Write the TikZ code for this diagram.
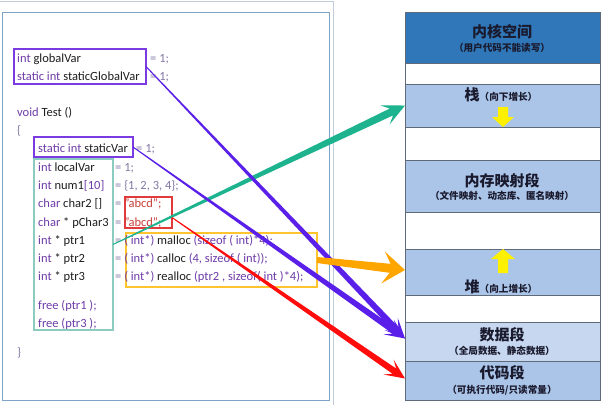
\documentclass[tikz,border=0pt]{standalone}
\usepackage{fontspec}
\setmainfont{Carlito}
\newfontfamily\cjk{Noto Sans CJK SC}
\usetikzlibrary{calc}
\definecolor{kernblue}{HTML}{2F77B8}
\definecolor{segblue}{HTML}{ABC5E8}
\definecolor{datablue}{HTML}{C6D7EF}
\definecolor{segline}{HTML}{5F6B78}
\definecolor{kwc}{HTML}{6E3CA8}
\definecolor{eqc}{HTML}{8478A6}
\definecolor{strc}{HTML}{C8403A}
\definecolor{codeblk}{HTML}{1E1E1E}
\definecolor{globbox}{HTML}{7A3CE0}
\definecolor{tealbox}{HTML}{8CCCC0}
\definecolor{redbox}{HTML}{E03A3A}
\definecolor{orgbox}{HTML}{FFC42E}
\definecolor{tealarr}{HTML}{1EB38F}
\definecolor{purparr}{HTML}{5A1FE8}
\definecolor{orgarr}{HTML}{FFA500}
\definecolor{redarr}{HTML}{FF0D0D}
\definecolor{frameblue}{HTML}{7FA3C6}
\definecolor{frameout}{HTML}{C0CCD8}
\definecolor{yarrow}{HTML}{FFF000}
\definecolor{titlec}{HTML}{1A1A2E}
\newcommand\kw[1]{\textcolor{kwc}{#1}}
% color, from, to, half-width start, half-width end, head length, notch length, head half-width
\newcommand\taperarrow[8]{%
  \coordinate (ta-K) at ($(#3)!#6!(#2)$);
  \coordinate (ta-H) at ($(#3)!#7!(#2)$);
  \fill[#1] ($(#2)!#4!90:(#3)$) -- ($(ta-H)!#5!-90:(#2)$) -- ($(ta-K)!#8!-90:(#2)$) -- (#3)
     -- ($(ta-K)!#8!90:(#2)$) -- ($(ta-H)!#5!90:(#2)$) -- ($(#2)!#4!-90:(#3)$) -- cycle;
}
\begin{document}
\begin{tikzpicture}[x=1pt,y=-1pt,
  codetxt/.style={anchor=base west, inner sep=0pt, font=\fontsize{12.5}{14}\selectfont, text=codeblk},
  eqtxt/.style={codetxt, text=eqc},
  boxat/.style={rectangle, anchor=north west, inner sep=0pt, outer sep=0pt},
  seg/.style={boxat, draw=segline, line width=0.7pt, minimum width=195pt},
  segtitle/.style={inner sep=0pt, font=\cjk\bfseries\fontsize{15}{17}\selectfont, text=titlec},
  segsub/.style={inner sep=0pt, font=\cjk\bfseries\fontsize{9.6}{11}\selectfont, text=titlec},
]
\useasboundingbox (0,0) rectangle (606,405);
\fill[white] (0,0) rectangle (606,405);
% left frame
\draw[frameout, line width=0.8pt] (0,1.5) -- (333,1.5) -- (333,405);
\node[boxat, draw=frameblue, line width=0.9pt, minimum width=327pt, minimum height=388pt] (panel) at (2,12) {};
% memory layout
\node[seg, fill=kernblue, minimum height=51pt] (kern) at (405,12) {};
\node[seg, fill=white, minimum height=21pt] (gap1) at (405,63) {};
\node[seg, fill=segblue, minimum height=43pt] (stack) at (405,84) {};
\node[seg, fill=white, minimum height=33pt] (gap2) at (405,127) {};
\node[seg, fill=segblue, minimum height=52pt] (mmap) at (405,160) {};
\node[seg, fill=white, minimum height=37pt] (gap3) at (405,212) {};
\node[seg, fill=segblue, minimum height=46pt] (heap) at (405,249) {};
\node[seg, fill=white, minimum height=27pt] (gap4) at (405,295) {};
\node[seg, fill=datablue, minimum height=39pt] (data) at (405,322) {};
\node[seg, fill=segblue, minimum height=39pt] (code) at (405,361) {};
\node[segtitle] (kernt) at (502,32) {内核空间};
\node[segsub] (kerns) at (502,48) {（用户代码不能读写）};
\node[segtitle] (stackt) at (501,95) {栈{\fontsize{9.6}{11}\selectfont（向下增长）}};
\node[segtitle] (mmapt) at (502,181) {内存映射段};
\node[segsub] (mmaps) at (502,196) {（文件映射、动态库、匿名映射）};
\node[segtitle] (heapt) at (501,287) {堆{\fontsize{9.6}{11}\selectfont（向上增长）}};
\node[segtitle] (datat) at (502,335) {数据段};
\node[segsub] (datas) at (502,351) {（全局数据、静态数据）};
\node[segtitle] (codet) at (502,373) {代码段};
\node[segsub] (codes) at (502,390) {（可执行代码/只读常量）};
% yellow growth arrows
\fill[yarrow] (498,107) -- (508,107) -- (508,117) -- (514,117) -- (503,127) -- (492,117) -- (498,117) -- cycle;
\fill[yarrow] (498,273) -- (508,273) -- (508,259) -- (515,259) -- (503,249) -- (491,259) -- (498,259) -- cycle;
% code boxes
\node[boxat, draw=globbox, line width=1.3pt, minimum width=132pt, minimum height=35pt] (globals) at (14,49) {};
\node[boxat, draw=globbox, line width=1.3pt, minimum width=99pt, minimum height=20pt] (svbox) at (34,137) {};
\node[boxat, draw=tealbox, line width=1.1pt, minimum width=79pt, minimum height=171pt] (locals) at (34,159) {};
\node[boxat, draw=redbox, line width=1.1pt, minimum width=47pt, minimum height=31pt] (strbox) at (125,197) {};
\node[boxat, draw=orgbox, line width=1.1pt, minimum width=191pt, minimum height=54pt] (heapbox) at (126,233) {};
% code text
\node[codetxt] (l1) at (17,62) {\kw{int} globalVar};
\node[eqtxt] (e1) at (150,62) {= 1;};
\node[codetxt] (l2) at (17,80) {\kw{static int} staticGlobalVar};
\node[eqtxt] (e2) at (150,80) {= 1;};
\node[codetxt] (l3) at (17,116) {\kw{void} Test ()};
\node[eqtxt] (l4) at (17,134) {\{};
\node[codetxt] (l5) at (38,152) {\kw{static int} staticVar};
\node[eqtxt] (e5) at (136,152) {= 1;};
\node[codetxt] (l6) at (38,171) {\kw{int} localVar};
\node[eqtxt] (e6) at (115,171) {= 1;};
\node[codetxt] (l7) at (38,189) {\kw{int} num1\kw{[10]}};
\node[eqtxt] (e7) at (115,189) {= \{1, 2, 3, 4\};};
\node[codetxt] (l8) at (38,207) {\kw{char} char2 []};
\node[eqtxt] (e8) at (115,207) {= \textcolor{strc}{"abcd";}};
\node[codetxt] (l9) at (38,226) {\kw{char} * pChar3};
\node[eqtxt] (e9) at (115,226) {= \textcolor{strc}{"abcd";}};
\node[codetxt] (l10) at (38,244) {\kw{int} * ptr1};
\node[eqtxt] (e10) at (115,244) {= \kw{( int*)} \textcolor{codeblk}{malloc} \kw{(sizeof ( int)*4);}};
\node[codetxt] (l11) at (38,262) {\kw{int} * ptr2};
\node[eqtxt] (e11) at (115,262) {= \kw{( int*)} \textcolor{codeblk}{calloc} \kw{(4, sizeof ( int));}};
\node[codetxt] (l12) at (38,280) {\kw{int} * ptr3};
\node[eqtxt] (e12) at (115,280) {= \kw{( int*)} \textcolor{codeblk}{realloc} \kw{(ptr2 , sizeof( int )*4);}};
\node[codetxt, text=kwc] (l13) at (38,309) {free (ptr1 );};
\node[codetxt, text=kwc] (l14) at (38,327) {free (ptr3 );};
\node[eqtxt] (l15) at (17,356) {\}};
% connectors
\coordinate (tealS) at (locals.east);
\coordinate (tealE) at (stack.west);
\coordinate (globS) at (globals.east);
\coordinate (svS) at (svbox.east);
\coordinate (dataE) at ($(data.west)+(0,-3)$);
\coordinate (orgS) at (heapbox.east);
\coordinate (orgE) at ($(heap.west)+(0,-2)$);
\coordinate (redS) at ($(strbox.east)+(0,5)$);
\coordinate (redE) at ($(code.west)+(0,-2)$);
\taperarrow{tealarr}{tealS}{tealE}{0.5pt}{3.8pt}{22pt}{15pt}{10.5pt}
\taperarrow{purparr}{globS}{dataE}{0.5pt}{3.2pt}{20pt}{13pt}{9pt}
\taperarrow{purparr}{svS}{dataE}{0.5pt}{3.2pt}{20pt}{13pt}{9pt}
\taperarrow{orgarr}{orgS}{orgE}{3pt}{4.5pt}{22pt}{15pt}{16pt}
\taperarrow{redarr}{redS}{redE}{0.5pt}{3.2pt}{20pt}{13pt}{9pt}
\end{tikzpicture}
\end{document}
